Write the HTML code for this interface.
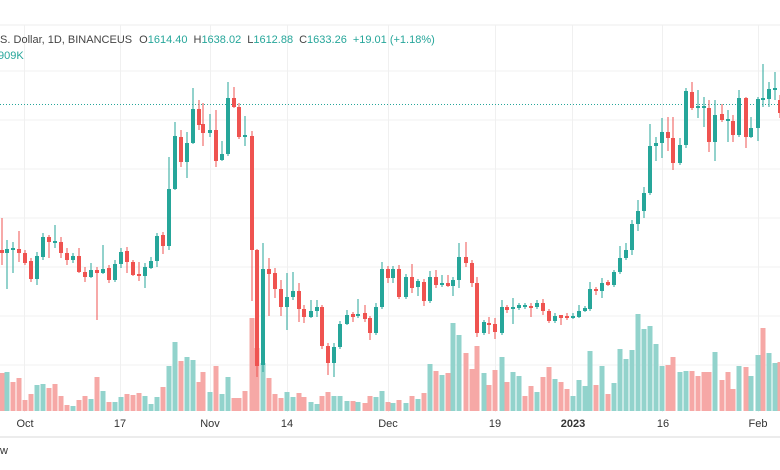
<!DOCTYPE html>
<html><head><meta charset="utf-8"><style>
body{margin:0;background:#fff;width:780px;height:470px;overflow:hidden;font-family:"Liberation Sans",sans-serif}
</style></head><body>
<svg id="s" width="780" height="470" xmlns="http://www.w3.org/2000/svg" style="position:absolute;left:0;top:0">
<rect width="780" height="470" fill="#fff"/>
<line x1="0" y1="25" x2="780" y2="25" stroke="#ececec"/>
<g stroke="#f0f0f0" stroke-width="1">
<line x1="0" y1="71" x2="780" y2="71"/><line x1="0" y1="120" x2="780" y2="120"/><line x1="0" y1="169" x2="780" y2="169"/><line x1="0" y1="218" x2="780" y2="218"/><line x1="0" y1="267" x2="780" y2="267"/><line x1="0" y1="316" x2="780" y2="316"/><line x1="0" y1="365" x2="780" y2="365"/>
<line x1="24.5" y1="25" x2="24.5" y2="412"/><line x1="120.5" y1="25" x2="120.5" y2="412"/><line x1="210.5" y1="25" x2="210.5" y2="412"/><line x1="287.5" y1="25" x2="287.5" y2="412"/><line x1="388.5" y1="25" x2="388.5" y2="412"/><line x1="495.5" y1="25" x2="495.5" y2="412"/><line x1="572.5" y1="25" x2="572.5" y2="412"/><line x1="662.5" y1="25" x2="662.5" y2="412"/><line x1="758.5" y1="25" x2="758.5" y2="412"/>
</g>
<line x1="0" y1="104.5" x2="780" y2="104.5" stroke="#26a69a" stroke-dasharray="1,2" stroke-width="1"/>
<g id="vol"></g><g id="cdl"></g>
<line x1="0" y1="437" x2="780" y2="437" stroke="#ececec" stroke-width="2"/>
<g font-size="11" fill="#333" text-anchor="middle">
<text x="25" y="427">Oct</text><text x="120" y="427">17</text><text x="210" y="427">Nov</text><text x="287" y="427">14</text><text x="388" y="427">Dec</text><text x="495" y="427">19</text><text x="573" y="427" font-weight="bold">2023</text><text x="663" y="427">16</text><text x="758" y="427">Feb</text>
</g>
<text x="0" y="454" font-size="11" fill="#333">w</text>
<text x="-3" y="43" font-size="11" fill="#444">.S. Dollar, 1D, BINANCEUS <tspan dx="4">O</tspan><tspan fill="#26a69a">1614.40</tspan><tspan dx="6">H</tspan><tspan fill="#26a69a">1638.02</tspan><tspan dx="6">L</tspan><tspan fill="#26a69a">1612.88</tspan><tspan dx="6">C</tspan><tspan fill="#26a69a">1633.26</tspan><tspan dx="6" fill="#26a69a">+19.01 (+1.18%)</tspan></text>
<text x="-2" y="59" font-size="11" fill="#26a69a">909K</text>
</svg>
<script>
// x, open, close, high, low, volTop
var d=[
[2,250,253,218,265,373],[7,253,249,240,289,372],[13,249,249,242,273,382],[19,249,253,231,262,378],[25,253,263,250,265,400],[31,261,279,258,282,394],[37,279,256,252,285,385],[43,257,237,233,260,384],[49,237,242,235,258,388],[55,242,242,225,248,384],[61,242,253,237,258,396],[67,253,260,248,265,405],[73,260,256,253,263,406],[79,256,272,248,273,400],[85,272,277,267,282,396],[91,277,270,263,278,399],[97,270,273,267,320,377],[103,273,269,245,274,391],[109,268,280,265,283,402],[115,280,264,260,282,402],[121,264,252,248,268,397],[127,251,262,247,273,394],[133,262,275,260,276,395],[139,274,276,262,281,393],[145,276,267,263,288,396],[151,268,261,257,269,404],[157,261,236,233,267,397],[163,235,246,232,254,387],[169,246,189,157,250,366],[175,189,136,122,190,342],[181,137,162,130,167,361],[187,162,143,132,178,357],[193,143,109,88,144,360],[199,109,125,100,130,382],
[203,124,133,103,146,372],[210,133,130,114,137,392],[216,130,161,110,167,366],[222,160,154,141,161,394],[228,154,98,82,156,377],[234,98,107,87,108,398],[239,107,137,103,139,398],[245,136,136,116,146,391],[252,136,250,131,301,318],[257,250,366,249,377,348],[263,365,269,243,372,363],[269,269,274,258,316,378],[275,273,289,268,298,394],[281,289,307,280,316,398],[287,307,297,273,330,392],[293,297,291,272,300,397],[299,291,309,283,322,393],[304,309,317,305,323,397],[311,317,311,300,318,402],[317,311,307,300,317,404],[322,307,346,305,349,396],[328,346,363,343,375,392],[334,363,347,343,377,396],[340,347,324,321,349,396],[347,324,315,310,325,401],[353,314,317,312,322,401],[358,316,314,299,318,402],[365,313,319,305,322,403],[370,318,333,316,340,396],[376,333,307,303,335,397],[382,307,269,262,309,391],[388,269,278,266,283,402],[393,278,269,266,283,403],
[399,269,297,265,299,400],[406,297,277,274,299,403],[412,277,288,264,293,396],[418,287,281,279,296,399],[424,282,301,279,306,393],[430,301,277,271,303,364],[436,277,285,270,288,371],[442,285,283,275,287,375],[448,283,286,275,287,373],[453,286,280,277,296,323],[459,280,257,243,288,335],[466,257,263,242,267,353],[472,263,283,260,287,369],[477,283,333,277,337,346],[484,333,322,320,335,373],[489,323,325,317,334,385],[495,324,332,318,339,370],[502,333,307,300,335,357],[507,307,310,305,313,382],[513,309,307,298,324,372],[519,307,306,303,310,376],[525,306,306,303,309,396],[531,306,308,303,317,386],[537,307,303,300,309,392],[543,303,311,299,315,377],[549,311,321,309,323,367],[555,321,316,313,323,379],[561,316,317,315,325,382],[567,316,318,313,320,389],[573,318,316,313,319,396],[579,317,311,305,318,380],[585,311,308,306,312,386],
[590,309,289,282,311,351],[596,289,291,287,295,385],[602,291,283,278,298,366],[608,282,285,280,286,394],[614,285,272,270,287,383],[620,272,258,246,274,349],[626,258,250,243,260,359],[632,250,224,220,255,350],[638,224,211,200,231,314],[644,211,193,187,218,329],[650,193,146,124,195,326],[656,146,143,137,161,344],[662,143,132,118,158,366],[668,132,138,117,151,365],[673,138,163,117,170,357],[680,163,145,138,165,372],[686,145,91,88,148,371],[692,92,108,82,110,371],[698,107,107,90,118,376],[704,107,107,97,127,372],[709,108,142,100,152,372],[715,142,115,100,161,352],[722,114,120,104,122,380],[728,120,120,110,142,372],[733,121,135,115,142,389],[739,135,98,90,137,366],[746,98,137,97,148,367],[751,137,128,117,138,376],[758,128,99,97,141,355],[763,99,99,64,107,328],[769,99,89,82,107,353],[775,90,88,72,100,363],[780,100,113,95,118,362]];
var c='',v='',G='#26a69a',R='#ef5350',GV='#92d3cc',RV='#f6a8a6';
d.forEach(function(a){var x=a[0],o=a[1],cl=a[2],h=a[3],l=a[4],vt=a[5];var up=cl<=o&&!(cl==o&&false);var col=cl<o?G:(cl>o?R:G);
var vc=cl<o?GV:RV;
v+='<rect x="'+(x-2.5)+'" y="'+vt+'" width="5" height="'+(411-vt)+'" fill="'+vc+'"/>';
c+='<line x1="'+x+'" y1="'+h+'" x2="'+x+'" y2="'+l+'" stroke="'+col+'" stroke-width="1"/>';
var t=Math.min(o,cl),b=Math.max(o,cl);if(b-t<2){t-=1;b+=1;}
c+='<rect x="'+(x-2)+'" y="'+t+'" width="4" height="'+(b-t)+'" fill="'+col+'"/>';});
document.getElementById('vol').innerHTML=v;document.getElementById('cdl').innerHTML=c;
</script>
</body></html>
